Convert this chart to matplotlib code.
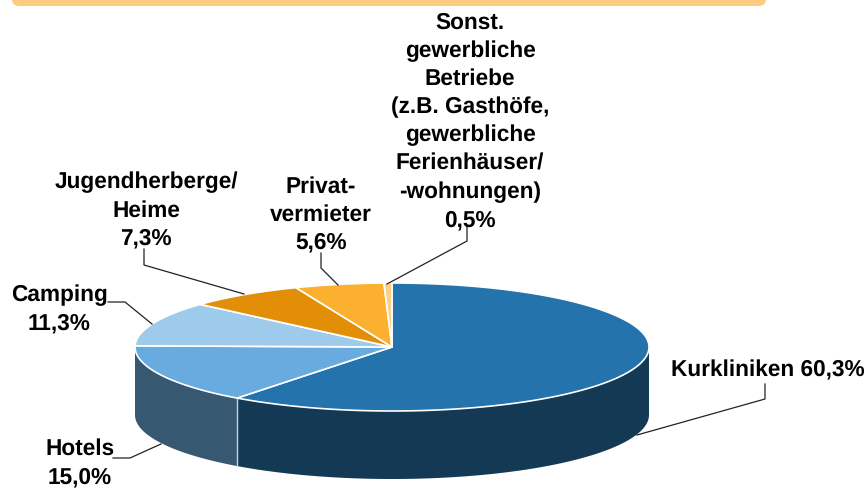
import numpy as np
import matplotlib
matplotlib.use('Agg')
import matplotlib.pyplot as plt
from matplotlib.patches import FancyBboxPatch, Polygon

W, H = 868, 488
labels = ['Kurkliniken 60,3%', 'Hotels\n15,0%', 'Camping\n11,3%',
          'Jugendherberge/\nHeime\n7,3%', 'Privat-\nvermieter\n5,6%',
          'Sonst.\ngewerbliche\nBetriebe\n(z.B. Gasthöfe,\ngewerbliche\nFerienhäuser/\n-wohnungen)\n0,5%']
values = [60.3, 15.0, 11.3, 7.3, 5.6, 0.5]
top_colors = ['#2473AC', '#68ABDE', '#9ECBEC', '#E28F07', '#FCB030', '#FDD08A']
side_colors = ['#143955', '#375871', None, None, None, None]
label_xy = [(768, 370.5), (80, 463), (59.5, 309), (146, 210.5), (321, 214.5), (470, 121.5)]
leaders = [[(765, 384), (765, 399), (637, 435)],
           [(113, 458), (130, 458), (161, 444)],
           [(108, 302), (125, 302), (152, 324)],
           [(144, 249), (144, 265), (244, 294)],
           [(321, 253), (321, 268), (338, 285)],
           [(467, 225), (467, 241), (387, 284)]]

plt.rcParams['font.family'] = ['Liberation Sans', 'DejaVu Sans']
plt.rcParams['text.hinting'] = 'none'
fig = plt.figure(figsize=(W / 100, H / 100), dpi=100)
ax = fig.add_axes([0, 0, 1, 1])
ax.set_xlim(0, W)
ax.set_ylim(H, 0)
ax.axis('off')

# banner at the top edge
ax.add_patch(FancyBboxPatch((12, -30), 754, 36, boxstyle='round,pad=0,rounding_size=7',
                            fc='#FFCC7D', ec='none', zorder=1))

cx, cy, rx, ry, depth = 392, 347, 257, 64, 68
edges = np.cumsum([0] + values) / sum(values) * 2 * np.pi


def pt(theta):
    return cx + rx * np.sin(theta), cy - ry * np.cos(theta)


# sides of the front slices
for i, col in enumerate(side_colors):
    if col is None:
        continue
    a0, a1 = edges[i], edges[i + 1]
    a0v, a1v = max(a0, np.pi / 2), min(a1, 3 * np.pi / 2)
    t = np.linspace(a0v, a1v, 200)
    x, y = pt(t)
    verts = np.r_[np.c_[x, y], np.c_[x, y + depth][::-1]]
    ax.add_patch(Polygon(verts, closed=True, fc=col, ec='none', zorder=2))
x, y = pt(edges[1])
ax.plot([x, x], [y, y + depth], color='#C8D2DA', lw=1, zorder=3)

# top faces
for i, col in enumerate(top_colors):
    t = np.linspace(edges[i], edges[i + 1], 300)
    x, y = pt(t)
    verts = np.r_[[[cx, cy]], np.c_[x, y]]
    ax.add_patch(Polygon(verts, closed=True, fc=col, ec='white', lw=1.2, joinstyle='round', zorder=4))

# leaders and labels
for pts in leaders:
    p = np.array(pts)
    ax.plot(p[:, 0], p[:, 1], color='#222222', lw=0.9, zorder=5, solid_joinstyle='miter')
for s, (x, y), ha in zip(labels, label_xy, ['left', 'center', 'center', 'center', 'center', 'center']):
    ax.text(x if ha == 'center' else 671, y, s, ha=ha, va='center', fontsize=16.3,
            fontweight='bold', color='black', linespacing=1.40, zorder=6)

fig.savefig('out.png', dpi=100)
